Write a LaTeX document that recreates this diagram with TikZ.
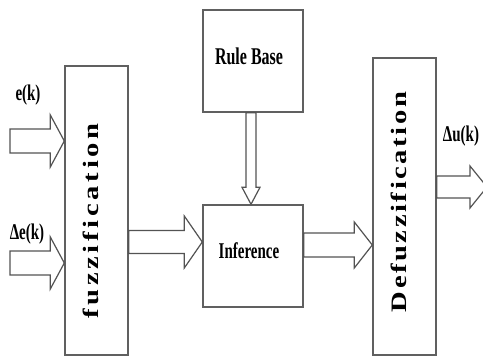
\documentclass[tikz,border=0pt]{standalone}
\usepackage{fontspec}
\setmainfont{Liberation Serif}
\usetikzlibrary{positioning, calc}

\newcommand{\tall}[1]{\scalebox{1}[1.5]{#1}}
\newcommand{\wide}[1]{\scalebox{1.3}[1]{#1}}
% tail, tip, shaft half width, head half width, head length
\newcommand{\fatarrow}[5]{%
    \path ($(#2)!#5!(#1)$) coordinate (hb);
    \draw [hollow] ($(#1)!#3!90:(#2)$) -- ($(hb)!#3!90:(#2)$) -- ($(hb)!#4!90:(#2)$) -- (#2)
        -- ($(hb)!#4!-90:(#2)$) -- ($(hb)!#3!-90:(#2)$) -- ($(#1)!#3!-90:(#2)$) -- cycle;
}

\begin{document}
\begin{tikzpicture}
    [
        x=1pt, y=-1pt,
        block/.style={draw=gray!75!black, line width=1.4pt, inner sep=0pt},
        hollow/.style={draw=gray!65!black, line width=1.2pt, fill=white, line join=miter},
        lbl/.style={inner sep=0pt, font=\bfseries\fontsize{15}{15}\selectfont},
        vtext/.style={rotate=90, inner sep=0pt, font=\bfseries\fontsize{22}{22}\selectfont}
    ]
        \useasboundingbox (0,0) rectangle (483,361);
        \clip (0,0) rectangle (483,361);
        % =========================================================================
        % BLOCKS
        % =========================================================================
        \node [block, minimum width=63pt, minimum height=289pt] (fuzz) at (96.5,210.5) {};
        \node [block, minimum width=100pt, minimum height=102pt] (rule) at (253,61) {};
        \node [block, minimum width=100pt, minimum height=102pt] (infer) at (253,256) {};
        \node [block, minimum width=63pt, minimum height=297pt] (defuzz) at (404.5,206.5) {};
        % --- texts ---
        \node [lbl, font=\bfseries\fontsize{16}{16}\selectfont] (ruletext) at (249,56) {\tall{Rule Base}};
        \node [lbl] (infertext) at (249,251) {\tall{Inference}};
        \node [vtext] (fuzztext) at (91,221) {\wide{\addfontfeature{LetterSpace=13}fuzzification}};
        \node [vtext] (defuzztext) at (399,202) {\wide{\addfontfeature{LetterSpace=9}Defuzzification}};
        \node [lbl] (ek) at (28,95) {\tall{e(k)}};
        \node [lbl] (dek) at (27,234) {\tall{Δe(k)}};
        \node [lbl] (duk) at (461,136) {\tall{Δu(k)}};

        % =========================================================================
        % ARROWS
        % =========================================================================
        \coordinate (ein) at (10,141);
        \coordinate (ein tip) at (fuzz.west |- ein);
        \coordinate (dein) at (10,263);
        \coordinate (dein tip) at (fuzz.west |- dein);
        \coordinate (fi tip) at ($(infer.west)+(0,-14)$);
        \coordinate (fi tail) at (fuzz.east |- fi tip);
        \coordinate (id tail) at ($(infer.east)+(0,-11)$);
        \coordinate (id tip) at (defuzz.west |- id tail);
        \coordinate (ri tail) at ($(rule.south)+(-2,0)$);
        \coordinate (ri tip) at ($(infer.north)+(-2,0)$);
        \coordinate (out) at (487,187);
        \coordinate (out tail) at (defuzz.east |- out);

        \fatarrow{ein}{ein tip}{12pt}{26pt}{14pt}
        \fatarrow{dein}{dein tip}{12pt}{26pt}{14pt}
        \fatarrow{fi tail}{fi tip}{11.5pt}{26pt}{18pt}
        \fatarrow{id tail}{id tip}{12pt}{23pt}{18pt}
        \fatarrow{ri tail}{ri tip}{5pt}{9pt}{17pt}
        \fatarrow{out tail}{out}{11pt}{21pt}{17pt}

\end{tikzpicture}
\end{document}
